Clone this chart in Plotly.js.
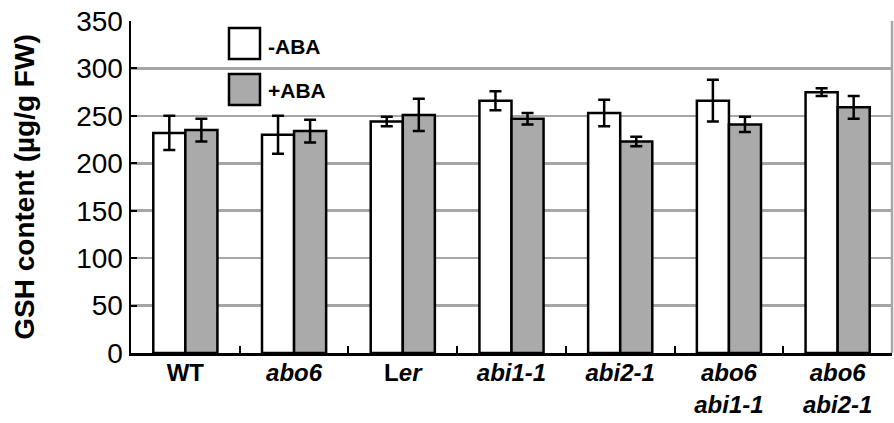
<!DOCTYPE html>
<html>
<head>
<meta charset="utf-8">
<script src="https://cdn.plot.ly/plotly-3.0.1.min.js"></script>
<style>html,body{margin:0;padding:0;background:#fff}#chart{width:894px;height:423px}</style>
</head>
<body>
<div id="chart"></div>
<script>
var categories = ["WT", "<i>abo6</i>", "L<i>er</i>", "<i>abi1-1</i>", "<i>abi2-1</i>", "<i>abo6</i><br><i>abi1-1</i>", "<i>abo6</i><br><i>abi2-1</i>"];
var minusABA = [232, 230, 244, 266, 253, 266, 275];
var minusABAErr = [18, 20, 5, 10, 14, 22, 4];
var plusABA = [235, 234, 251, 247, 223, 241, 259];
var plusABAErr = [12, 12, 17, 6, 5, 8, 12];
var seriesNames = ["-ABA", "+ABA"];
var yTicks = [0, 50, 100, 150, 200, 250, 300, 350];

var font = "Liberation Sans, Arial, Helvetica, sans-serif";
var grid = "#a6a6a6";

var traces = [
  {
    type: "bar", name: seriesNames[0], x: categories, y: minusABA,
    marker: {color: "#ffffff", line: {color: "#000", width: 2.5}},
    error_y: {type: "data", array: minusABAErr, visible: true, color: "#000", thickness: 2.5, width: 6}
  },
  {
    type: "bar", name: seriesNames[1], x: categories, y: plusABA,
    marker: {color: "#aaaaaa", line: {color: "#000", width: 2.5}},
    error_y: {type: "data", array: plusABAErr, visible: true, color: "#000", thickness: 2.5, width: 6}
  }
];

function px2x(p) { return (p - 131) / 761; }
function px2y(p) { return (353 - p) / 332; }

var layout = {
  width: 894, height: 423,
  margin: {l: 131, r: 2, t: 21, b: 70},
  paper_bgcolor: "#fff", plot_bgcolor: "#fff",
  showlegend: false,
  barmode: "group", bargap: 0.41, bargroupgap: 0,
  font: {family: font, color: "#000"},
  xaxis: {
    type: "category",
    showline: true, linecolor: "#000", linewidth: 2.5,
    ticks: "inside", tickson: "boundaries", ticklen: 7, tickwidth: 2, tickcolor: "#000",
    ticklabelstandoff: -3,
    tickfont: {family: font, size: 24, color: "#000", weight: "bold"},
    showgrid: false, zeroline: false
  },
  yaxis: {
    range: [0, 350], tickvals: yTicks, ticktext: yTicks.map(String),
    showline: true, linecolor: "#000", linewidth: 2.5,
    ticks: "inside", ticklen: 6, tickwidth: 2, tickcolor: "#000",
    tickfont: {family: font, size: 28, color: "#000"},
    showgrid: true, gridcolor: grid, gridwidth: 2.5,
    zeroline: false,
    title: {text: "GSH content (µg/g FW)", font: {family: font, size: 28, color: "#000", weight: "bold"}, standoff: 34}
  },
  shapes: [
    {type: "line", xref: "paper", yref: "paper", x0: 1, x1: 1, y0: 0, y1: 1, line: {color: grid, width: 2.5}},
    {type: "rect", xref: "paper", yref: "paper", x0: px2x(229), x1: px2x(260), y0: px2y(59), y1: px2y(28), fillcolor: "#ffffff", line: {color: "#000", width: 2.5}},
    {type: "rect", xref: "paper", yref: "paper", x0: px2x(229), x1: px2x(260), y0: px2y(105), y1: px2y(74), fillcolor: "#aaaaaa", line: {color: "#000", width: 2.5}}
  ],
  annotations: [
    {xref: "paper", yref: "paper", x: px2x(266), y: px2y(46), xanchor: "left", yanchor: "middle", showarrow: false, text: "<b>" + seriesNames[0] + "</b>", font: {family: font, size: 21, color: "#000"}},
    {xref: "paper", yref: "paper", x: px2x(266), y: px2y(90), xanchor: "left", yanchor: "middle", showarrow: false, text: "<b>" + seriesNames[1] + "</b>", font: {family: font, size: 21, color: "#000"}}
  ]
};

Plotly.newPlot("chart", traces, layout, {displayModeBar: false, staticPlot: true});
</script>
</body>
</html>
